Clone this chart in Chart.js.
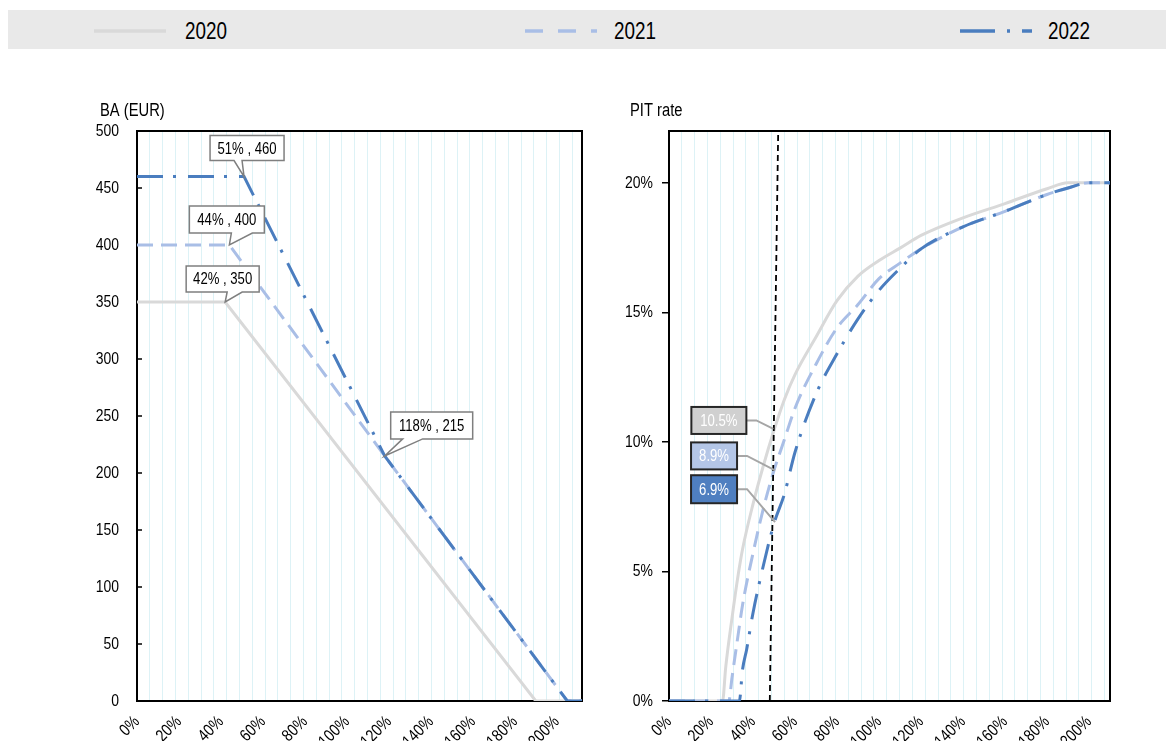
<!DOCTYPE html>
<html>
<head>
<meta charset="utf-8">
<script src="https://cdn.jsdelivr.net/npm/chart.js@4"></script>
<style>
html,body{margin:0;padding:0;background:#fff;width:1174px;height:741px;overflow:hidden;
  font-family:'Liberation Sans',Arial,sans-serif;}
#legend{position:absolute;left:8px;top:10px;width:1158px;height:39px;background:#E9E9E9;}
#legend svg{position:absolute;top:0;}
#legend span{position:absolute;top:0;height:39px;line-height:42px;font-size:23px;color:#000;
  transform:scaleX(0.82);transform-origin:left center;}
#w1{position:absolute;left:0;top:60px;width:600px;height:681px;}
#w2{position:absolute;left:600px;top:60px;width:574px;height:681px;}
</style>
</head>
<body>
<div id="legend"></div>
<div id="w1"><canvas id="c1" width="600" height="681"></canvas></div>
<div id="w2"><canvas id="c2" width="574" height="681"></canvas></div>
<script>
// ---------------- DATA ----------------
const years = ['2020', '2021', '2022'];

// Left panel: basic allowance (EUR) vs income (% of average wage)
const baX2020 = [0, 42, 190, 212];
const ba2020  = [350, 350, 0, 0];
const baX2021 = [0, 44, 118, 205, 212];
const ba2021  = [400, 400, 215, 0, 0];
const baX2022 = [0, 51, 118, 205, 212];
const ba2022  = [460, 460, 215, 0, 0];

const baCalloutText = ['51% , 460', '44% , 400', '42% , 350', '118% , 215'];
const baCalloutX = [51, 44, 42, 118];
const baCalloutY = [460, 400, 350, 215];

// Right panel: PIT rate (%) vs income (% of average wage)
const pitX2020 = [0, 25.5, 27, 30, 33, 35, 40, 45, 50, 55, 60, 70, 80, 90, 100, 110, 120, 140, 160, 180, 190, 210];
const pit2020  = [0, 0, 1.3, 3.2, 4.9, 5.85, 7.6, 9.1, 10.45, 11.65, 12.6, 14.05, 15.45, 16.4, 17.0, 17.48, 17.97, 18.65, 19.2, 19.77, 20, 20];
const pitX2021 = [0, 28.5, 30, 33, 35, 40, 45, 50, 55, 60, 70, 80, 90, 100, 110, 120, 140, 160, 180, 190, 200, 210];
const pit2021  = [0, 0, 0.9, 2.6, 3.7, 5.7, 7.45, 8.9, 10.1, 11.3, 13.0, 14.4, 15.3, 16.3, 16.9, 17.45, 18.3, 18.9, 19.55, 19.8, 20, 20];
const pitX2022 = [0, 33.5, 35, 37, 40, 45, 50, 55, 60, 70, 80, 90, 100, 110, 120, 140, 160, 180, 190, 200, 210];
const pit2022  = [0, 0, 1.2, 2.0, 3.4, 5.25, 6.85, 8.0, 9.6, 11.85, 13.4, 14.75, 15.85, 16.7, 17.45, 18.3, 18.9, 19.55, 19.8, 20, 20];

const refLineX = [48, 52];
const refLineY = [0, 22];

const pitTagText = ['10.5%', '8.9%', '6.9%'];
const pitTagX = [49.7, 50.5, 50.5];
const pitTagY = [10.5, 8.9, 6.9];

const baTicks = {min: 0, max: 500, step: 50};
const pitTicks = {min: 0, max: 22, step: 5};
const xTickStep = 20;

// ---------------- STYLES ----------------
const FONT = "'Liberation Sans',Arial,sans-serif";
const NARROW = 0.82;   // horizontal text compression (narrow face look)
Chart.defaults.font.family = FONT;
Chart.defaults.color = '#000';
const col = {'2020': '#D9D9D9', '2021': '#A9BEE6', '2022': '#4A7DBF'};
const dash = {'2020': [], '2021': [16, 8], '2022': [26, 10, 3, 12]};
const gridColor = '#DDF2F6';

// ---------------- LEGEND ----------------
const legendPos = [{line: 86, text: 177}, {line: 517, text: 606}, {line: 952, text: 1040}];
const legDash = {'2020': '', '2021': '18 15', '2022': '35 12 3 12'};
const leg = document.getElementById('legend');
years.forEach((yr, i) => {
  const svg = `<svg style="left:${legendPos[i].line}px" width="72" height="39"><line x1="0" y1="21" x2="72" y2="21" stroke="${col[yr]}" stroke-width="3.5" stroke-dasharray="${legDash[yr]}"/></svg>`;
  leg.insertAdjacentHTML('beforeend', svg + `<span style="left:${legendPos[i].text}px">${yr}</span>`);
});

// ---------------- HELPERS ----------------
function pts(xs, ys) { return xs.map((x, i) => ({x: x, y: ys[i]})); }

function narrowText(canvas, k) {
  const ctx = canvas.getContext('2d');
  const fill = ctx.fillText.bind(ctx);
  const measure = ctx.measureText.bind(ctx);
  ctx.fillText = function (t, x, y) {
    ctx.save(); ctx.translate(x, y); ctx.scale(k, 1); fill(t, 0, 0); ctx.restore();
  };
  ctx.measureText = function (t) {
    const m = measure(t);
    return {width: m.width * k, actualBoundingBoxAscent: m.actualBoundingBoxAscent,
            actualBoundingBoxDescent: m.actualBoundingBoxDescent,
            actualBoundingBoxLeft: m.actualBoundingBoxLeft * k, actualBoundingBoxRight: m.actualBoundingBoxRight * k};
  };
  return canvas;
}

const extras = {
  id: 'extras',
  beforeDatasetsDraw(chart, args, o) {
    const {ctx, chartArea: a} = chart;
    ctx.save();
    if (o.innerTicks) {
      const ys = chart.scales.y;
      ctx.strokeStyle = '#000'; ctx.lineWidth = 1.5;
      ys.ticks.forEach(t => {
        const py = ys.getPixelForValue(t.value);
        ctx.beginPath(); ctx.moveTo(a.left, py); ctx.lineTo(a.left + 5, py); ctx.stroke();
      });
    }
    ctx.strokeStyle = '#000'; ctx.lineWidth = 2;
    ctx.strokeRect(a.left, a.top, a.right - a.left, a.bottom - a.top);
    ctx.restore();
  },
  afterDatasetsDraw(chart, args, o) {
    const {ctx, chartArea: a, scales} = chart;
    ctx.save();
    ctx.font = '18px ' + FONT;
    ctx.fillStyle = '#000'; ctx.textAlign = 'left'; ctx.textBaseline = 'alphabetic';
    ctx.fillText(o.title, a.left + o.titleDx, a.top + o.titleDy);
    ctx.font = '16px ' + FONT;
    (o.callouts || []).forEach(c => {
      const px = scales.x.getPixelForValue(c.x), py = scales.y.getPixelForValue(c.y);
      const L = px + c.dx, T = py + c.dy, R = L + c.w, B = T + c.h;
      ctx.beginPath();
      ctx.moveTo(L, T); ctx.lineTo(R, T); ctx.lineTo(R, B); ctx.lineTo(px + c.b2, B);
      ctx.lineTo(px, py); ctx.lineTo(px + c.b1, B); ctx.lineTo(L, B); ctx.closePath();
      ctx.fillStyle = '#fff'; ctx.fill();
      ctx.strokeStyle = '#7F7F7F'; ctx.lineWidth = 1.5; ctx.stroke();
      ctx.fillStyle = '#000'; ctx.textAlign = 'center'; ctx.textBaseline = 'middle';
      ctx.fillText(c.text, (L + R) / 2, (T + B) / 2 + 1);
    });
    (o.tags || []).forEach(c => {
      const px = scales.x.getPixelForValue(c.x), py = scales.y.getPixelForValue(c.y);
      const L = px + c.dx, T = py + c.dy, R = L + c.w, B = T + c.h, M = (T + B) / 2;
      ctx.strokeStyle = '#A6A6A6'; ctx.lineWidth = 2;
      ctx.beginPath(); ctx.moveTo(R, M); ctx.lineTo(R + 10, M); ctx.lineTo(px, py); ctx.stroke();
      ctx.fillStyle = c.fill; ctx.fillRect(L, T, c.w, c.h);
      ctx.strokeStyle = '#262626'; ctx.lineWidth = 2; ctx.strokeRect(L, T, c.w, c.h);
      ctx.fillStyle = '#fff'; ctx.textAlign = 'center'; ctx.textBaseline = 'middle';
      ctx.fillText(c.text, (L + R) / 2, M + 1);
    });
    ctx.restore();
  }
};

function xScales(max) {
  return {
    x: {type: 'linear', min: 0, max: max, position: 'bottom',
        grid: {display: false, drawTicks: false}, border: {display: false},
        ticks: {stepSize: xTickStep, includeBounds: false, autoSkip: false, maxRotation: 45, minRotation: 45,
                padding: 11, font: {size: 17}, callback: v => v + '%'},
        afterFit: s => { s.height = 40; }},
    xg: {type: 'linear', min: 0, max: max, position: 'bottom',
         grid: {color: gridColor, lineWidth: 1, drawTicks: false}, border: {display: false},
         ticks: {display: false, stepSize: 6.1, includeBounds: false},
         afterFit: s => { s.height = 0; }}
  };
}

function lineDs(yr, data, order) {
  return {label: yr, data: data, borderColor: col[yr], borderWidth: 3, borderDash: dash[yr],
          borderCapStyle: 'butt', pointRadius: 0, fill: false, order: order};
}

// ---------------- LEFT CHART ----------------
const leftCallouts = [
  {dx: -34, dy: -41, w: 74, h: 25, b1: -10, b2: -2},
  {dx: -40, dy: -39, w: 75, h: 27, b1: 2, b2: 23},
  {dx: -39, dy: -36, w: 73, h: 26, b1: 2, b2: 17},
  {dx: 6, dy: -44, w: 82, h: 27, b1: 18, b2: 38}
].map((p, i) => Object.assign({text: baCalloutText[i], x: baCalloutX[i], y: baCalloutY[i]}, p));

new Chart(narrowText(document.getElementById('c1'), NARROW), {
  type: 'line',
  data: {datasets: [
    lineDs('2022', pts(baX2022, ba2022), 0),
    lineDs('2021', pts(baX2021, ba2021), 1),
    lineDs('2020', pts(baX2020, ba2020), 2)
  ]},
  options: {
    responsive: false, animation: false,
    layout: {padding: {left: 0, top: 71, right: 18, bottom: 0}},
    plugins: {legend: {display: false}, tooltip: {enabled: false},
      extras: {title: 'BA (EUR)', titleDx: -37, titleDy: -15, innerTicks: true, callouts: leftCallouts}},
    scales: Object.assign(xScales(212), {
      y: {min: baTicks.min, max: baTicks.max,
          ticks: {stepSize: baTicks.step, padding: 18, font: {size: 17}},
          grid: {display: false, drawTicks: false}, border: {display: false},
          afterFit: s => { s.width = 137; }}
    })
  },
  plugins: [extras]
});

// ---------------- RIGHT CHART ----------------
const tagFills = ['#D0D0D0', '#B4C6E7', '#4F7FC0'];
const rightTags = [
  {dx: -82, dy: -22, w: 55, h: 27},
  {dx: -84, dy: -28, w: 46, h: 27},
  {dx: -84, dy: -47, w: 46, h: 28}
].map((p, i) => Object.assign({text: pitTagText[i], x: pitTagX[i], y: pitTagY[i], fill: tagFills[i]}, p));

new Chart(narrowText(document.getElementById('c2'), NARROW), {
  type: 'line',
  data: {datasets: [
    {label: 'ref', data: pts(refLineX, refLineY), borderColor: '#000', borderWidth: 1.8, borderDash: [6, 4],
     pointRadius: 0, order: -1},
    Object.assign(lineDs('2022', pts(pitX2022, pit2022), 0), {cubicInterpolationMode: 'monotone'}),
    Object.assign(lineDs('2021', pts(pitX2021, pit2021), 1), {cubicInterpolationMode: 'monotone'}),
    Object.assign(lineDs('2020', pts(pitX2020, pit2020), 2), {cubicInterpolationMode: 'monotone'})
  ]},
  options: {
    responsive: false, animation: false,
    layout: {padding: {left: 0, top: 71, right: 64, bottom: 0}},
    plugins: {legend: {display: false}, tooltip: {enabled: false},
      extras: {title: 'PIT rate', titleDx: -39, titleDy: -15, innerTicks: false, tags: rightTags}},
    scales: Object.assign(xScales(210), {
      y: {min: pitTicks.min, max: pitTicks.max,
          ticks: {stepSize: pitTicks.step, includeBounds: false, padding: 9, font: {size: 17}, callback: v => v + '%'},
          grid: {display: true, drawOnChartArea: false, drawTicks: true, tickLength: 7, color: '#000', lineWidth: 1.5},
          border: {display: false},
          afterFit: s => { s.width = 69; }}
    })
  },
  plugins: [extras]
});
</script>
</body>
</html>
